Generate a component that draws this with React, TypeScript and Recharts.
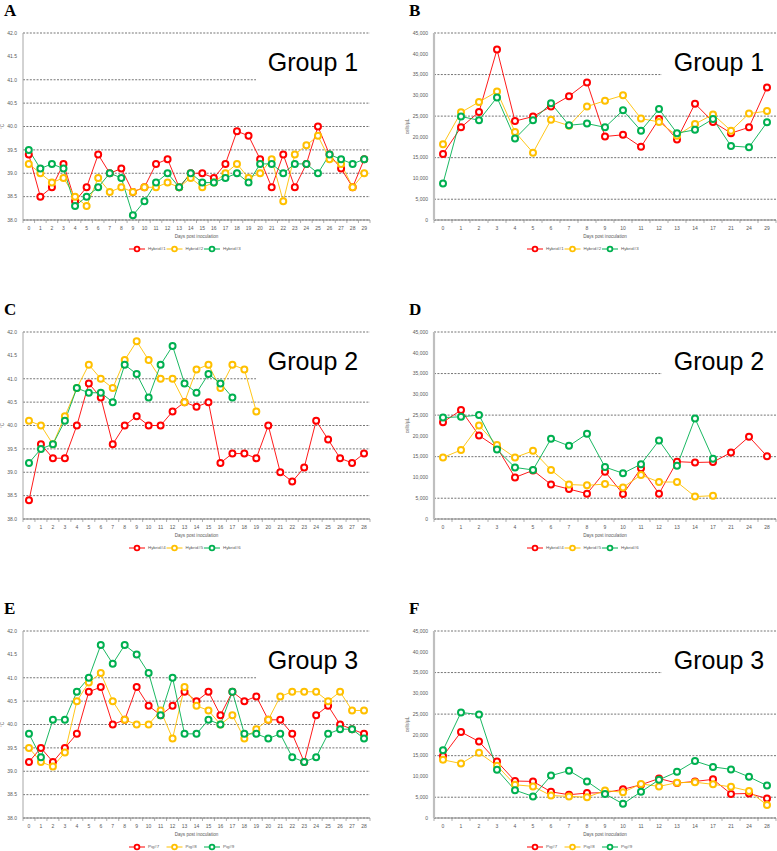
import React from "react";
import { LineChart, Line, XAxis, YAxis, CartesianGrid, Legend } from "recharts";

// day categories
const tempDaysA = ["0","1","2","3","4","5","6","7","8","9","10","11","12","13","14","15","16","17","18","19","20","21","22","23","24","25","26","27","28","29"];
const tempDaysCE = ["0","1","2","3","4","5","6","7","8","9","10","11","12","13","14","15","16","17","18","19","20","21","22","23","24","25","26","27","28"];
const wbcDaysB = ["0","1","2","3","4","5","6","7","8","9","10","11","12","13","14","17","21","24","29"];
const wbcDaysDF = ["0","1","2","3","4","5","6","7","8","9","10","11","12","13","14","17","21","24","28"];

// Group 1 - temperature (A)
const hybrid1Temp = [39.4,38.5,38.7,39.2,38.4,38.7,39.4,39.0,39.1,38.6,38.7,39.2,39.3,38.7,39.0,39.0,38.9,39.2,39.9,39.8,39.3,38.7,39.4,38.7,39.2,40.0,39.4,39.1,38.7,39.3];
const hybrid2Temp = [39.2,39.0,38.8,38.9,38.5,38.3,38.9,38.6,38.7,38.6,38.7,38.7,38.8,38.7,38.9,38.7,38.8,39.0,39.2,38.9,39.0,39.3,38.4,39.4,39.6,39.8,39.3,39.2,38.7,39.0];
const hybrid3Temp = [39.5,39.1,39.2,39.1,38.3,38.5,38.7,39.0,38.9,38.1,38.4,38.8,39.0,38.7,39.0,38.8,38.8,38.9,39.0,38.8,39.2,39.2,39.0,39.2,39.2,39.0,39.4,39.3,39.2,39.3];

// Group 1 - WBC (B)
const hybrid1Wbc = [15900,22300,26000,41000,23800,24900,27300,29800,33100,20100,20500,17600,24300,19400,28000,23600,20900,22300,31900];
const hybrid2Wbc = [18200,25900,28400,30900,21200,16200,24100,22700,27300,28700,30000,24400,23600,20300,23100,25400,21500,25600,26200];
const hybrid3Wbc = [8800,24900,24000,29500,19600,24000,28100,22800,23200,22300,26400,21500,26700,20900,21700,24300,17800,17500,23500];

// Group 2 - temperature (C)
const hybrid4Temp = [38.4,39.6,39.3,39.3,40.0,40.9,40.6,39.6,40.0,40.2,40.0,40.0,40.3,40.5,40.4,40.5,39.2,39.4,39.4,39.3,40.0,39.0,38.8,39.1,40.1,39.7,39.3,39.2,39.4];
const hybrid5Temp = [40.1,40.0,39.6,40.2,40.8,41.3,41.0,40.8,41.4,41.8,41.4,41.0,41.0,40.5,41.2,41.3,40.8,41.3,41.2,40.3,null,null,null,null,null,null,null,null,null];
const hybrid6Temp = [39.2,39.5,39.6,40.1,40.8,40.7,40.7,40.5,41.3,41.1,40.6,41.3,41.7,40.9,40.7,41.1,40.9,40.6,null,null,null,null,null,null,null,null,null,null,null];

// Group 2 - WBC (D)
const hybrid4Wbc = [23300,26200,20100,17200,10000,11700,8300,7200,6100,11400,6000,12200,6100,13800,13600,13700,16000,19800,15100];
const hybrid5Wbc = [14800,16600,22500,17800,14800,16400,11800,8300,8100,8400,7600,10600,8900,8900,5400,5600,null,null,null];
const hybrid6Wbc = [24400,24600,25000,16700,12400,11800,19300,17600,20500,12500,11000,13200,18900,12800,24200,14500,null,null,null];

// Group 3 - temperature (E)
const pig7Temp = [39.2,39.5,39.2,39.5,39.8,40.7,40.8,40.0,40.1,40.8,40.4,40.2,40.4,40.7,40.5,40.7,40.2,40.7,40.5,40.6,40.1,40.1,39.8,39.2,40.2,40.4,40.0,39.9,39.8];
const pig8Temp = [39.5,39.2,39.1,39.4,40.5,40.9,41.1,40.5,40.1,40.0,40.0,40.3,39.7,40.8,40.4,40.3,40.0,40.2,39.7,39.9,40.1,40.6,40.7,40.7,40.7,40.5,40.7,40.3,40.3];
const pig9Temp = [39.8,39.3,40.1,40.1,40.7,41.0,41.7,41.3,41.7,41.5,41.1,40.2,41.0,39.8,39.8,40.1,40.0,40.7,39.8,39.8,39.7,39.8,39.3,39.2,39.3,39.8,39.9,39.9,39.7];

// Group 3 - WBC (F)
const pig7Wbc = [14900,20700,18400,13600,8900,8800,6300,5600,6000,6100,6900,8000,9500,8400,8800,9300,5800,5900,4700];
const pig8Wbc = [14000,13100,15700,12600,8000,7600,5400,5200,5000,6600,6200,8200,7600,8500,8600,8100,7500,6500,3100];
const pig9Wbc = [16300,25400,24900,11600,6700,5200,10200,11400,8800,5800,3400,6300,9200,11100,13700,12300,11700,9900,7800];

const tempTicks = [38, 38.5, 39, 39.5, 40, 40.5, 41, 41.5, 42];
const wbcTicks = [0, 5000, 10000, 15000, 20000, 25000, 30000, 35000, 40000, 45000];

const COLORS = ["#FF0000", "#FFC000", "#00B050"];
const TEXT_GRAY = "#595959";
const CHART_H = 233;
const PLOT_TOP = 8;

const XLabel = ({ viewBox }: any) => {
  if (!viewBox) return null;
  return (
    <text x={viewBox.x + viewBox.width / 2} y={viewBox.y + 17.5} textAnchor="middle" fontSize={4.6} fill={TEXT_GRAY}>
      Days post inoculation
    </text>
  );
};

const YLabel = ({ viewBox, text, dx }: any) => {
  if (!viewBox) return null;
  const cx = viewBox.x + dx;
  const cy = viewBox.y + viewBox.height / 2;
  return (
    <text x={cx} y={cy} transform={`rotate(-90 ${cx} ${cy})`} textAnchor="middle" dominantBaseline="middle" fontSize={4.6} fill={TEXT_GRAY}>
      {text}
    </text>
  );
};

const makeXTick = (bw: number, days: string[]) => (props: any) => {
  const { x, y, payload } = props;
  const idx = days.indexOf(String(payload.value));
  return (
    <g>
      <line x1={x + bw / 2} y1={y} x2={x + bw / 2} y2={y + 3} stroke="#8c8c8c" strokeWidth={0.7} />
      {idx === 0 && <line x1={x - bw / 2} y1={y} x2={x - bw / 2} y2={y + 3} stroke="#8c8c8c" strokeWidth={0.7} />}
      <text x={x} y={y + 9} textAnchor="middle" dominantBaseline="middle" fontSize={5} fill={TEXT_GRAY}>
        {payload.value}
      </text>
    </g>
  );
};

const LegendRow = ({ names }: { names: string[] }) => (
  <div style={{ display: "flex", justifyContent: "center", alignItems: "center", height: 18 }}>
    <svg width={names.length * 37.5} height={10}>
      {names.map((n, i) => (
        <g key={n} transform={`translate(${i * 37.5}, 0)`}>
          <line x1={0} y1={5} x2={16} y2={5} stroke={COLORS[i]} strokeWidth={1} />
          <circle cx={8} cy={5} r={2.4} fill="#fff" stroke={COLORS[i]} strokeWidth={1.8} />
          <text x={19} y={5} dominantBaseline="middle" fontSize={4.4} fill={TEXT_GRAY}>{n}</text>
        </g>
      ))}
    </svg>
  </div>
);

interface PanelProps {
  letter: string;
  group: string;
  days: string[];
  series: (number | null)[][];
  names: string[];
  kind: "temp" | "wbc";
  left: number;
  top: number;
}

const Panel: React.FC<PanelProps> = ({ letter, group, days, series, names, kind, left, top }) => {
  const isTemp = kind === "temp";
  const width = isTemp ? 377 : 387;
  const yWidth = isTemp ? 23 : 44;
  const marginRight = isTemp ? 7 : 1;
  const plotW = width - yWidth - marginRight;
  const bw = plotW / days.length;
  const data = days.map((d, i) => ({ day: d, s0: series[0][i], s1: series[1][i], s2: series[2][i] }));
  const boxLeft = left + yWidth + plotW - 114;

  return (
    <>
      <div style={{ position: "absolute", left: left + (isTemp ? 4 : 19), top: top - 23, fontFamily: "'Liberation Serif', 'Times New Roman', serif", fontWeight: "bold", fontSize: 17, lineHeight: "17px" }}>
        {letter}
      </div>
      <div style={{ position: "absolute", left, top }}>
        <LineChart width={width} height={CHART_H} data={data} margin={{ top: PLOT_TOP, right: marginRight, left: 0, bottom: 0 }}>
          <CartesianGrid vertical={false} stroke="#3a3a3a" strokeWidth={0.7} strokeDasharray="2 1.4" />
          <XAxis
            dataKey="day"
            interval={0}
            padding={{ left: bw / 2, right: bw / 2 }}
            height={20}
            tickSize={0}
            tickMargin={0}
            tickLine={false}
            axisLine={{ stroke: "#8c8c8c", strokeWidth: 1 }}
            tick={makeXTick(bw, days)}
            label={<XLabel />}
          />
          <YAxis
            width={yWidth}
            domain={isTemp ? [38, 42] : [0, 45000]}
            ticks={isTemp ? tempTicks : wbcTicks}
            allowDataOverflow
            tickFormatter={(v: number) => (isTemp ? v.toFixed(1) : v.toLocaleString("en-US"))}
            tick={{ fontSize: 5, fill: TEXT_GRAY }}
            tickLine={false}
            tickSize={0}
            tickMargin={6}
            axisLine={isTemp ? { stroke: "#a6a6a6", strokeWidth: 1 } : { stroke: "#bfbfbf", strokeWidth: 2.2 }}
            label={<YLabel text={isTemp ? "°C" : "cells/µL"} dx={isTemp ? 3 : 18} />}
          />
          <Legend verticalAlign="bottom" height={18} content={() => <LegendRow names={names} />} />
          {[0, 1, 2].map((i) => (
            <Line
              key={i}
              type="linear"
              dataKey={`s${i}`}
              name={names[i]}
              stroke={COLORS[i]}
              strokeWidth={0.9}
              dot={{ r: 3, strokeWidth: 2, fill: "#fff", stroke: COLORS[i] }}
              activeDot={false}
              isAnimationActive={false}
            />
          ))}
        </LineChart>
      </div>
      <div style={{ position: "absolute", left: boxLeft, top: top + PLOT_TOP + 5, width: 114, height: isTemp ? 50 : 44, background: "#fff" }} />
      <div style={{ position: "absolute", left: boxLeft, top: top + PLOT_TOP + 17, width: 114, textAlign: "center", fontFamily: "'Liberation Sans', Arial, sans-serif", fontSize: 25, lineHeight: "25px", color: "#000" }}>
        {group}
      </div>
    </>
  );
};

export default function App() {
  return (
    <div style={{ position: "absolute", left: 0, top: 0, width: 777, height: 851, background: "#fff", fontFamily: "'Liberation Sans', Arial, sans-serif" }}>
      <Panel letter="A" group="Group 1" days={tempDaysA} series={[hybrid1Temp, hybrid2Temp, hybrid3Temp]} names={["Hybrid#1", "Hybrid#2", "Hybrid#3"]} kind="temp" left={0} top={25} />
      <Panel letter="B" group="Group 1" days={wbcDaysB} series={[hybrid1Wbc, hybrid2Wbc, hybrid3Wbc]} names={["Hybrid#1", "Hybrid#2", "Hybrid#3"]} kind="wbc" left={390} top={25} />
      <Panel letter="C" group="Group 2" days={tempDaysCE} series={[hybrid4Temp, hybrid5Temp, hybrid6Temp]} names={["Hybrid#4", "Hybrid#5", "Hybrid#6"]} kind="temp" left={0} top={324} />
      <Panel letter="D" group="Group 2" days={wbcDaysDF} series={[hybrid4Wbc, hybrid5Wbc, hybrid6Wbc]} names={["Hybrid#4", "Hybrid#5", "Hybrid#6"]} kind="wbc" left={390} top={324} />
      <Panel letter="E" group="Group 3" days={tempDaysCE} series={[pig7Temp, pig8Temp, pig9Temp]} names={["Pig#7", "Pig#8", "Pig#9"]} kind="temp" left={0} top={623} />
      <Panel letter="F" group="Group 3" days={wbcDaysDF} series={[pig7Wbc, pig8Wbc, pig9Wbc]} names={["Pig#7", "Pig#8", "Pig#9"]} kind="wbc" left={390} top={623} />
    </div>
  );
}
